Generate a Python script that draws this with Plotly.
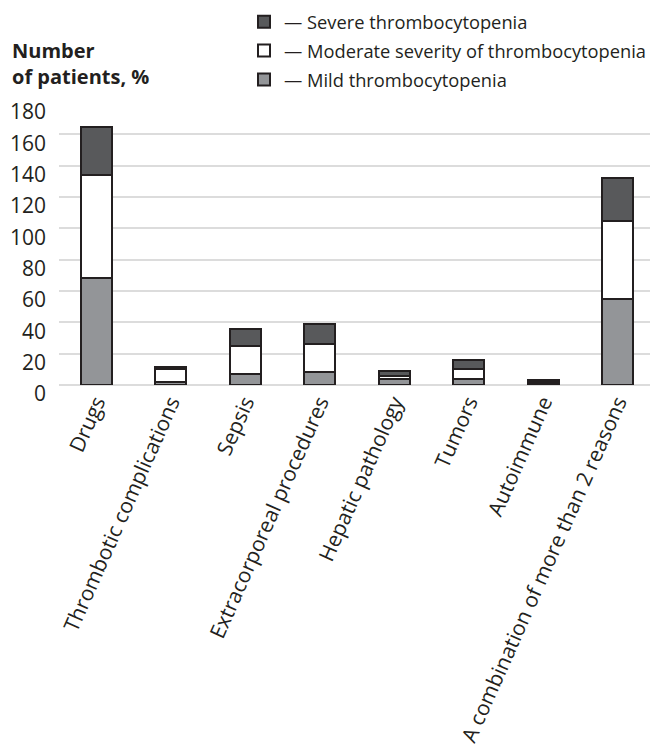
import plotly.graph_objects as go

categories = ["Drugs", "Thrombotic complications", "Sepsis", "Extracorporeal procedures",
              "Hepatic pathology", "Tumors", "Autoimmune", "A combination of more than 2 reasons"]
mild = [68, 2, 7, 8, 4, 4, 1, 55]
moderate = [66, 8, 18, 18, 1.5, 6, 1, 50]
severe = [31, 1.5, 11, 13, 3.5, 6, 1.5, 27]

series_names = ["— Mild thrombocytopenia", "— Moderate severity of thrombocytopenia", "— Severe thrombocytopenia"]
y_ticks = [0, 20, 40, 60, 80, 100, 120, 140, 160, 180]

FONT = "Open Sans"
TXT = "#231f20"
colors = ["#939598", "#ffffff", "#58595b"]
ranks = [3, 2, 1]

W, H = 650, 739          # page body has an 8px margin
PL, PR, PT, PB = 51, 647, 94.7, 377
PH = PB - PT

fig = go.Figure()
for name, vals, col, grp, rk in zip(series_names, [mild, moderate, severe], colors, ["a", "b", "c"], ranks):
    fig.add_trace(go.Bar(
        x=categories, y=vals, name=name, legendgroup=grp, legendrank=rk,
        marker=dict(color=col, line=dict(color=TXT, width=2)),
        width=0.41,
    ))

fig.update_layout(
    width=W, height=H,
    barmode="stack",
    plot_bgcolor="white", paper_bgcolor="white",
    margin=dict(l=PL, r=W - PR, t=PT, b=H - PB, autoexpand=False),
    font=dict(family=FONT, color=TXT, size=18),
    showlegend=True,
    legend=dict(
        x=(236 - PL) / (PR - PL), y=1 + (PT + 5) / PH, xref="paper", yref="paper",
        xanchor="left", yanchor="top",
        traceorder="grouped", tracegroupgap=2,
        font=dict(family=FONT, size=18.3, color=TXT),
        bgcolor="rgba(0,0,0,0)",
        itemwidth=30,
    ),
    xaxis=dict(
        range=[-0.5, 7.5],
        tickangle=-66,
        tickfont=dict(family=FONT, size=21, color=TXT),
        showgrid=False, showline=False, ticks="", automargin=False,
    ),
    yaxis=dict(
        range=[0, 180],
        tickvals=y_ticks,
        tickfont=dict(family=FONT, size=21, color=TXT),
        showgrid=True, gridcolor="#dcdcdc", gridwidth=1.5,
        zeroline=True, zerolinecolor="#dcdcdc", zerolinewidth=1.5,
        showline=False, ticks="", ticklabelstandoff=12, ticklabelshift=9,
        automargin=False,
    ),
    annotations=[dict(
        text="<b>Number<br>of patients, %</b>", x=(2 - PL) / (PR - PL), y=(PB - 84) / PH,
        xref="paper", yref="paper",
        showarrow=False, align="left", xanchor="left", yanchor="bottom",
        font=dict(family=FONT, size=20, color=TXT),
    )],
)

fig.write_html("out.html")
